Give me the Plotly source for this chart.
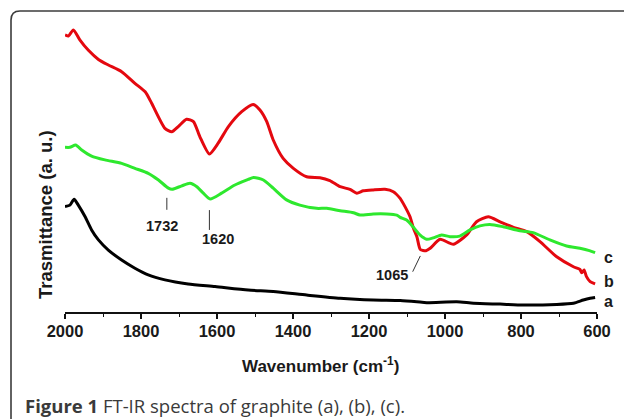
import plotly.graph_objects as go

# FT-IR spectra, wavenumber (cm^-1) vs transmittance (arbitrary units)
wn_a = [2000, 1987, 1976, 1965, 1947, 1930, 1912, 1886, 1851, 1816, 1781, 1737,
        1676, 1605, 1518, 1452, 1364, 1276, 1189, 1118, 1074, 1048, 969, 925,
        855, 794, 706, 662, 636, 618, 605]
tr_a = [36.1, 36.6, 38.6, 36.6, 32.6, 28.1, 24.7, 21.2, 17.8, 15.0, 12.7, 11.0,
        9.6, 8.7, 7.5, 7.0, 5.8, 4.7, 4.1, 3.9, 3.5, 3.2, 3.5, 3.0,
        2.7, 2.4, 2.6, 3.0, 4.1, 4.7, 5.0]

wn_b = [2000, 1991, 1978, 1961, 1939, 1912, 1886, 1851, 1816, 1789, 1772, 1737,
        1719, 1702, 1680, 1662, 1645, 1620, 1597, 1570, 1535, 1505, 1487, 1469,
        1452, 1426, 1399, 1364, 1329, 1303, 1276, 1250, 1232, 1215, 1189, 1158,
        1136, 1118, 1110, 1092, 1083, 1074, 1065, 1050, 1039, 1013, 978, 943, 917,
        886, 855, 820, 785, 750, 706, 662, 645, 640, 634, 628, 618, 605]
tr_b = [94.9, 94.5, 96.6, 93.2, 89.7, 86.5, 84.6, 82.3, 78.3, 75.4, 71.5, 62.9,
        61.7, 63.5, 66.0, 65.2, 60.0, 54.1, 57.8, 63.5, 68.6, 71.1, 69.2, 65.2,
        58.9, 52.6, 49.2, 46.3, 46.0, 45.0, 42.9, 42.0, 40.7, 41.5, 41.8, 42.0,
        41.2, 38.9, 37.2, 32.6, 28.7, 25.8, 21.4, 21.0, 21.8, 24.9, 23.2, 26.4, 30.9,
        32.6, 30.9, 29.0, 27.5, 24.1, 18.9, 15.5, 14.6, 13.4, 14.4, 12.2, 10.4, 9.6]

wn_c = [2000, 1987, 1972, 1956, 1930, 1895, 1851, 1816, 1781, 1754, 1728, 1718,
        1693, 1671, 1653, 1636, 1618, 1588, 1553, 1518, 1504, 1478, 1452, 1417,
        1382, 1338, 1311, 1276, 1241, 1224, 1189, 1153, 1127, 1118, 1101, 1083,
        1066, 1048, 1031, 1009, 987, 961, 934, 908, 882, 847, 803, 768, 724,
        680, 645, 620, 605]
tr_c = [56.4, 56.4, 57.2, 55.5, 53.4, 52.1, 50.9, 49.2, 47.5, 45.2, 42.4, 42.0,
        43.2, 44.1, 42.9, 40.7, 38.7, 40.7, 43.5, 45.4, 46.1, 45.2, 42.4, 38.4,
        36.6, 35.5, 35.5, 34.7, 34.0, 33.2, 33.6, 33.6, 33.2, 32.4, 31.5, 29.0,
        26.4, 24.9, 25.4, 26.4, 25.8, 26.0, 28.1, 29.5, 30.0, 29.2, 27.8, 27.2, 24.7,
        22.6, 21.8, 21.0, 20.3]

series_names = ["a", "b", "c"]
series_colors = ["#000000", "#e4080f", "#2ee82e"]

# Peak markers: wavenumber, label position and leader-line ends
peak_wn = [1732, 1620, 1065]
peak_label_pos = [(1744, 29.6), (1597, 24.9), (1140, 12.7)]
peak_line = [((1732, 39.1), (1732, 35.0)),
             ((1620, 34.9), (1620, 28.1)),
             ((1065, 19.2), (1085, 13.8))]

# Series tags just right of the curve ends
tag_pos = [(587, 3.5), (587, 10.3), (587, 18.5)]

X_RANGE = [2000, 600]
Y_RANGE = [0, 100]

W, H = 624, 419
ML, MR, MT, MB = 65, 27, 20, 107
PW, PH = W - ML - MR, H - MT - MB

FONT = "Arial"

fig = go.Figure()
for wn, tr, name, col in zip([wn_a, wn_b, wn_c], [tr_a, tr_b, tr_c],
                             series_names, series_colors):
    fig.add_trace(go.Scatter(x=wn, y=tr, mode="lines", name=name,
                             line=dict(color=col, width=3, shape="spline", smoothing=0.6),
                             showlegend=False, hoverinfo="skip"))

label_font = dict(family=FONT, size=14.5, color="#1a1a1a")
annotations = []
for wn, (lx, ly), (p0, p1) in zip(peak_wn, peak_label_pos, peak_line):
    annotations.append(dict(x=lx, y=ly, xref="x", yref="y", text=f"<b>{wn}</b>",
                            showarrow=False, font=label_font,
                            xanchor="center", yanchor="middle"))
    fig.add_shape(type="line", xref="x", yref="y", x0=p0[0], y0=p0[1],
                  x1=p1[0], y1=p1[1], line=dict(color="#333333", width=1))


def data_to_paper(x, y):
    return ((X_RANGE[0] - x) / (X_RANGE[0] - X_RANGE[1]),
            (y - Y_RANGE[0]) / (Y_RANGE[1] - Y_RANGE[0]))


def px_to_paper(px, py):
    return (px - ML) / PW, (H - MB - py) / PH


for name, (tx, ty) in zip(series_names, tag_pos):
    ax, ay = data_to_paper(tx, ty)
    annotations.append(dict(x=ax, y=ay, xref="paper", yref="paper", text=f"<b>{name}</b>",
                            showarrow=False, xanchor="left", yanchor="middle",
                            font=dict(family=FONT, size=16, color="#1a1a1a")))

# Axis titles and caption
tx, ty = px_to_paper(45, 215)
annotations.append(dict(x=tx, y=ty, xref="paper", yref="paper", textangle=-90,
                        text="<b>Trasmittance (a. u.)</b>", showarrow=False,
                        xanchor="center", yanchor="middle",
                        font=dict(family=FONT, size=18.5, color="#1a1a1a")))
tx, ty = px_to_paper(320, 365)
annotations.append(dict(x=tx, y=ty, xref="paper", yref="paper",
                        text="<b>Wavenumber (cm<sup>-1</sup>)</b>", showarrow=False,
                        xanchor="center", yanchor="middle",
                        font=dict(family=FONT, size=17, color="#1a1a1a")))
tx, ty = px_to_paper(23, 405)
annotations.append(dict(x=tx, y=ty, xref="paper", yref="paper",
                        text="<b>Figure 1</b> FT-IR spectra of graphite (a), (b), (c).",
                        showarrow=False, xanchor="left", yanchor="middle",
                        font=dict(family="Open Sans", size=18.5, color="#3a3a3a")))

# Rounded frame around the figure
r = 9
x0, y0, x1, y1 = 11, 11, 660, 430


def P(px, py):
    a, b = px_to_paper(px, py)
    return f"{a:.5f},{b:.5f}"


path = (f"M {P(x0, y1 - r)} L {P(x0, y0 + r)} Q {P(x0, y0)} {P(x0 + r, y0)} "
        f"L {P(x1 - r, y0)} Q {P(x1, y0)} {P(x1, y0 + r)} L {P(x1, y1 - r)} "
        f"Q {P(x1, y1)} {P(x1 - r, y1)} L {P(x0 + r, y1)} Q {P(x0, y1)} {P(x0, y1 - r)} Z")
fig.add_shape(type="path", xref="paper", yref="paper", path=path,
              line=dict(color="#3c3c3c", width=1.6), layer="below")

fig.update_layout(
    width=W, height=H,
    margin=dict(l=ML, r=MR, t=MT, b=MB),
    paper_bgcolor="white", plot_bgcolor="white",
    font=dict(family=FONT),
    annotations=annotations,
    xaxis=dict(range=X_RANGE, showgrid=False, zeroline=False,
               showline=True, linecolor="#111111", linewidth=1.5,
               ticks="outside", ticklen=5, tickwidth=1.5, tickcolor="#111111",
               tickmode="linear", tick0=600, dtick=200,
               tickprefix="<b>", ticksuffix="</b>", ticklabelstandoff=-2,
               tickfont=dict(family=FONT, size=16.5, color="#1a1a1a"),
               minor=dict(ticks="outside", ticklen=3, tickwidth=1.2, dtick=100,
                          tickcolor="#111111", showgrid=False)),
    yaxis=dict(range=Y_RANGE, visible=False),
)

fig.write_html("out.html")
